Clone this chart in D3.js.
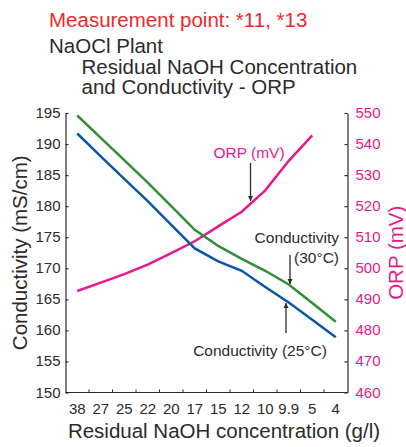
<!DOCTYPE html>
<html>
<head>
<meta charset="utf-8">
<script src="https://cdn.jsdelivr.net/npm/d3@7"></script>
<style>
  body { margin: 0; background: #fff; }
  svg { display: block; font-family: "Liberation Sans", Arial, sans-serif; }
</style>
</head>
<body>
<svg id="chart"></svg>
<script>
const categories = ["38", "27", "25", "22", "20", "17", "15", "12", "10", "9.9", "5", "4"];
const cond25 = [191.7, 188.0, 184.4, 180.8, 177.0, 173.2, 171.1, 169.6, 167.0, 164.5, 161.7, 158.9];
const cond30 = [194.6, 191.0, 187.4, 183.8, 180.0, 176.2, 173.6, 171.5, 169.6, 167.4, 164.4, 161.4];
const orp = [492.7, 495.4, 498.1, 501.2, 504.9, 508.7, 513.5, 518.2, 525.1, 534.6, 542.8, null];
const leftTicks = [150, 155, 160, 165, 170, 175, 180, 185, 190, 195];
const rightTicks = [460, 470, 480, 490, 500, 510, 520, 530, 540, 550];

const width = 406, height = 447;
const margin = {top: 113, right: 58.5, bottom: 54.5, left: 65.5};
const innerW = width - margin.left - margin.right;
const innerH = height - margin.top - margin.bottom;

const pink = "#e8188c", blue = "#0a57a8", green = "#2e8f35", ink = "#2b2b2b";

const svg = d3.select("#chart").attr("width", width).attr("height", height);

// titles
svg.append("text").attr("x", 49).attr("y", 27).attr("fill", "#f0282d")
   .style("font-size", "20.5px").text("Measurement point: *11, *13");
svg.append("text").attr("x", 49).attr("y", 53).attr("fill", ink)
   .style("font-size", "20.5px").text("NaOCl Plant");
svg.append("text").attr("x", 81.5).attr("y", 74).attr("fill", ink)
   .style("font-size", "20.5px").text("Residual NaOH Concentration");
svg.append("text").attr("x", 81.5).attr("y", 94).attr("fill", ink)
   .style("font-size", "20.5px").text("and Conductivity - ORP");

const x = d3.scaleBand().domain(categories).range([0, innerW]).padding(0);
const yL = d3.scaleLinear().domain([150, 195]).range([innerH, 0]);
const yR = d3.scaleLinear().domain([460, 550]).range([innerH, 0]);

const G = svg.append("g").attr("transform", "translate(" + margin.left + "," + margin.top + ")");

// left axis
const left = G.append("g")
  .call(d3.axisLeft(yL).tickValues(leftTicks).tickSizeInner(-3).tickSizeOuter(0).tickPadding(5));
left.selectAll("text").attr("fill", ink).style("font-size", "15px").attr("dy", "0.3em");

// right axis
const right = G.append("g").attr("transform", "translate(" + innerW + ",0)")
  .call(d3.axisRight(yR).tickValues(rightTicks).tickSizeInner(-3).tickSizeOuter(0).tickPadding(8));
right.selectAll("text").attr("fill", pink).style("font-size", "15px").attr("dy", "0.3em");

// bottom axis: ticks at category boundaries
const bottom = G.append("g").attr("transform", "translate(0," + innerH + ")");
bottom.append("line").attr("x1", 0).attr("x2", innerW).attr("stroke", ink).attr("stroke-width", 1.2);
bottom.selectAll(".bt").data(categories.slice(1)).enter().append("line")
  .attr("x1", d => x(d)).attr("x2", d => x(d)).attr("y1", 0).attr("y2", -3)
  .attr("stroke", ink).attr("stroke-width", 1);
bottom.selectAll(".bl").data(categories).enter().append("text")
  .attr("x", d => x(d) + x.bandwidth() / 2).attr("y", 21)
  .attr("text-anchor", "middle").attr("fill", ink).style("font-size", "15px").text(d => d);

G.selectAll(".domain, .tick line").attr("stroke", ink).attr("stroke-width", 1.2);

// axis titles
svg.append("text").attr("transform", "translate(27," + (margin.top + innerH / 2) + ") rotate(-90)")
   .attr("text-anchor", "middle").attr("fill", ink).style("font-size", "20.5px").text("Conductivity (mS/cm)");
svg.append("text").attr("transform", "translate(403," + (margin.top + innerH / 2) + ") rotate(-90)")
   .attr("text-anchor", "middle").attr("fill", pink).style("font-size", "20.5px").text("ORP (mV)");
svg.append("text").attr("x", 224).attr("y", 438)
   .attr("text-anchor", "middle").attr("fill", ink).style("font-size", "20.5px").text("Residual NaOH concentration (g/l)");

// series
const cx = (d, i) => x(categories[i]) + x.bandwidth() / 2;
const lineL = d3.line().x(cx).y(d => yL(d));
const lineR = d3.line().defined(d => d !== null).x(cx).y(d => yR(d));

G.append("path").datum(orp).attr("d", lineR).attr("fill", "none").attr("stroke", pink).attr("stroke-width", 2.5);
G.append("path").datum(cond30).attr("d", lineL).attr("fill", "none").attr("stroke", green).attr("stroke-width", 2.5);
G.append("path").datum(cond25).attr("d", lineL).attr("fill", "none").attr("stroke", blue).attr("stroke-width", 2.5);

// annotations
const defs = svg.append("defs");
defs.append("marker").attr("id", "arrow").attr("viewBox", "0 0 10 10")
  .attr("refX", 10).attr("refY", 5).attr("markerWidth", 5).attr("markerHeight", 6)
  .attr("markerUnits", "userSpaceOnUse").attr("orient", "auto")
  .append("path").attr("d", "M0,0 L10,5 L0,10 Z").attr("fill", ink);

function arrow(x1, y1, x2, y2) {
  svg.append("line").attr("x1", x1).attr("y1", y1).attr("x2", x2).attr("y2", y2)
     .attr("stroke", ink).attr("stroke-width", 1.3).attr("marker-end", "url(#arrow)");
}

svg.append("text").attr("x", 249).attr("y", 158).attr("text-anchor", "middle")
   .attr("fill", pink).style("font-size", "15.5px").text("ORP (mV)");
arrow(250.5, 163, 250.5, 201);

svg.append("text").attr("x", 339).attr("y", 243).attr("text-anchor", "end")
   .attr("fill", ink).style("font-size", "15.5px").text("Conductivity");
svg.append("text").attr("x", 339).attr("y", 263).attr("text-anchor", "end")
   .attr("fill", ink).style("font-size", "15.5px").text("(30°C)");
arrow(290, 255, 290, 284);

svg.append("text").attr("x", 260).attr("y", 356).attr("text-anchor", "middle")
   .attr("fill", ink).style("font-size", "15.5px").text("Conductivity (25°C)");
arrow(286, 333, 286, 303);
</script>
</body>
</html>
